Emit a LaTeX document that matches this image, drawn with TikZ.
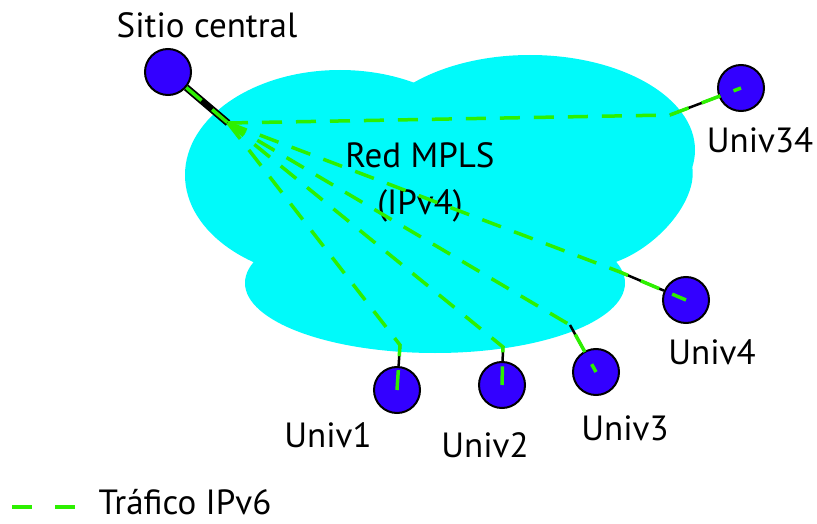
\documentclass[tikz,border=0pt]{standalone}
\usepackage{fontspec}
\setmainfont{PT Sans}

\definecolor{cloudcyan}{RGB}{0,250,250}
\definecolor{sitefill}{RGB}{51,0,255}
\definecolor{trafficgreen}{RGB}{45,240,0}

\tikzset{
    site/.style={circle, draw=black, line width=2pt, fill=sitefill, minimum size=46pt, inner sep=0pt},
    sitetext/.style={inner sep=0pt},
    accesslink/.style={black, line width=2.5pt},
    ipvsix/.style={trafficgreen, line width=3.5pt, dash pattern=on 20pt off 14pt},
}

\begin{document}
\begin{tikzpicture}[x=1pt, y=-1pt, font=\fontsize{35}{47}\selectfont]
    \useasboundingbox (0,0) rectangle (817,524);

    % Cloud
    \begin{scope}[cloudcyan]
        \fill (340,175) ellipse[x radius=155, y radius=105];
        \fill (530,150) ellipse[x radius=165, y radius=95];
        \fill[rotate around={40:(625,205)}] (625,205) ellipse[x radius=80, y radius=45];
        \fill (435,283) ellipse[x radius=190, y radius=70];
    \end{scope}
    \node[sitetext, align=center] (mpls) at (420,182) {Red MPLS\\(IPv4)};

    % Sites
    \node[site] (central) at (168,72) {};
    \node[site] (univ34) at (741,88) {};
    \node[site] (univ4) at (686,300) {};
    \node[site] (univ3) at (596,372) {};
    \node[site] (univ2) at (502,385) {};
    \node[site] (univ1) at (397,390) {};

    \node[sitetext] (centraltext) at (207,25) {Sitio central};
    \node[sitetext] (univ34text) at (760,140) {Univ34};
    \node[sitetext] (univ4text) at (712,352) {Univ4};
    \node[sitetext] (univ3text) at (625,428) {Univ3};
    \node[sitetext] (univ2text) at (485,445) {Univ2};
    \node[sitetext] (univ1text) at (328,435) {Univ1};

    % Edge points of the cloud
    \coordinate (hub) at (228,123);
    \coordinate (p34) at (670,115);
    \coordinate (p4) at (620,272);
    \coordinate (p3) at (570,325);
    \coordinate (p2) at (503,347);
    \coordinate (p1) at (400,345);

    % Access links
    \draw[black, line width=7pt] (central) -- (hub);
    \draw[accesslink] (p34) -- (univ34);
    \draw[accesslink] (p4) -- (univ4);
    \draw[accesslink] (p3) -- (univ3);
    \draw[accesslink] (p2) -- (univ2);
    \draw[accesslink] (p1) -- (univ1);

    % IPv6 traffic
    \draw[ipvsix] (central) -- (hub);
    \draw[ipvsix] (hub) -- (p34) -- (univ34.center);
    \draw[ipvsix] (hub) -- (p4) -- (univ4.center);
    \draw[ipvsix] (hub) -- (p3) -- (univ3.center);
    \draw[ipvsix] (hub) -- (p2) -- (univ2.center);
    \draw[ipvsix] (hub) -- (p1) -- (univ1.center);

    % Legend
    \coordinate (legendA) at (12,507);
    \coordinate (legendB) at (75,507);
    \draw[ipvsix, dash pattern=on 20pt off 23pt] (legendA) -- (legendB);
    \node[sitetext] (legendtext) at (185,502) {Tráfico IPv6};

\end{tikzpicture}
\end{document}
